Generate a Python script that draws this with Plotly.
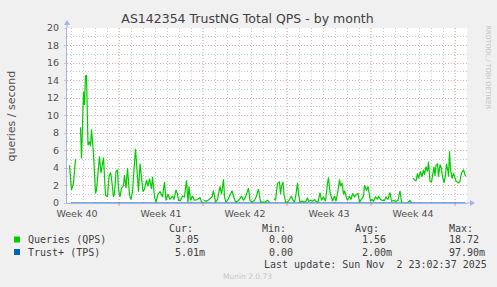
import pandas as pd
import plotly.graph_objects as go

# ---------------- data ----------------
START = pd.Timestamp("2025-09-30 16:00")
END = pd.Timestamp("2025-11-03 00:00")

# Queries (QPS): hours since START, value (None = no data)
qps_hours = [5, 9, 13, 17, 21, 27, 29, 33, 35, 37, 39, 42, 45, 47, 49, 53, 55, 57, 59, 63,
             65, 68, 71, 73, 75, 77, 81, 84, 87, 89, 93, 95, 98, 101, 103, 106, 109, 113, 115, 118,
             121, 125, 128, 131, 137, 141, 143, 146, 149, 152, 155, 159, 162, 165, 169, 171, 175, 178, 182, 186,
             191, 195, 198, 202, 206, 211, 214, 218, 221, 223, 227, 231, 235, 239, 242, 244, 247, 251, 255, 261,
             266, 270, 272, 274, 279, 284, 290, 293, 297, 301, 303, 306, 309, 313, 315, 318, 322, 326, 330, 334,
             337, 341, 345, 349, 353, 357, 359, 363, 366, 370, 375, 379, 383, 387, 391, 397, 401, 405, 408, 414,
             417, 421, 425, 427, 429, 432, 434, 437, 441, 445, 449, 451, 455, 458, 461, 463, 466, 470, 474, 478,
             481, 483, 487, 491, 495, 498, 502, 506, 509, 513, 517, 521, 523, 526, 529, 531, 535, 538, 542, 545,
             547, 550, 553, 555, 559, 561, 565, 568, 571, 575, 579, 582, 585, 589, 593, 595, 599, 602, 605, 607,
             610, 613, 617, 621, 623, 627, 631, 635, 638, 642, 646, 649, 653, 657, 662, 666, 669, 671, 674, 682,
             686, 689, 690, 692, 698, 701, 703, 707, 710, 713, 715, 718, 721, 723, 726, 729, 731, 734, 736, 738,
             741, 743, 746, 749, 751, 754, 757, 759, 762, 763, 765, 767, 770, 773, 775, 778, 781, 783, 786, 789,
             793, 795, 797]
qps_values = [4.3, 1.5, 2.25, 5.0, None, 8.65, 5.1, 12.7, 11.2, 14.5, 14.6, 6.6, 7.0, 6.5, 8.4, 5.7, 2.6, 1.1, 1.5, 3.8,
              5.3, 3.4, 4.3, 5.2, 3.0, 0.9, 0.7, 3.0, 3.5, 2.8, 0.7, 1.1, 3.6, 3.8, 1.5, 0.7, 1.7, 2.0, 3.2, 1.7,
              4.0, 0.9, 0.4, 1.3, 6.2, 3.0, 1.3, 4.5, 2.8, 1.3, 1.6, 2.6, 1.9, 2.8, 1.6, 3.0, 0.7, 0.1, 1.0, 1.3,
              0.7, 2.4, 0.3, 1.0, 0.4, 0.8, 0.4, 1.5, 1.0, 0.3, 0.3, 0.8, 0.7, 2.6, 0.1, 1.9, 0.3, 0.8, 0.3, 0.4,
              0.6, 0.0, None, 0.3, 0.2, 0.4, 0.7, 1.4, 0.1, 0.4, 1.0, 1.9, 1.0, 2.7, 0.7, 0.1, 0.4, 1.0, 1.4, 0.6,
              0.1, 0.2, 0.4, 0.8, 0.3, 0.7, 1.1, 1.7, 0.3, 0.1, 0.3, 0.8, 1.6, 0.1, 0.1, 0.1, 0.3, 0.1, None, 0.5,
              0.3, 2.25, 2.4, 1.0, 1.9, 2.4, 1.0, 0.1, 0.1, 0.4, 0.8, 0.4, 0.1, 1.0, 2.3, 1.0, 0.1, 0.2, 0.1, 0.2,
              0.6, 0.2, 0.3, 0.2, 0.4, 0.2, 0.1, 1.2, 0.3, 0.7, 0.2, 2.25, 2.9, 1.2, 0.4, 0.2, 0.8, 0.2, 1.4, 2.7,
              1.9, 2.3, 1.0, 1.4, 0.6, 0.3, 0.8, 0.4, 1.1, 0.7, 1.0, 1.1, 0.1, 0.4, 0.8, 2.05, 1.4, 1.9, 0.7, 0.2,
              0.4, 0.2, 0.7, 0.4, 0.8, 0.4, 0.3, 0.3, 0.7, 0.4, 1.2, 0.2, 0.3, 0.2, 0.3, 1.4, 0.1, 0.1, None, 0.1,
              0.3, 0.0, None, 2.85, 2.5, 3.4, 2.8, 3.6, 3.0, 3.8, 3.2, 4.15, 3.6, 4.7, 2.5, 2.4, 3.4, 4.15, 3.1, 4.3,
              4.5, 3.0, 4.4, 3.9, 3.0, 2.3, 3.2, 4.5, 3.6, 3.0, 5.9, 3.9, 2.8, 3.4, 3.0, 2.5, 2.4, 2.3, 2.5, 3.4,
              3.8, 3.2, 3.05]

# Trust+ (TPS): tiny values (milli-transactions/s), daily samples
tps_hours = [8, 32, 56, 80, 104, 128, 152, 176, 200, 224, 248, 272, 296, 320, 344, 368, 392, 416,
             440, 464, 488, 512, 536, 560, 584, 608, 632, 656, 680, 704, 728, 752, 776, 797]
tps_values = [0.002, 0.004, 0.001, 0.0, 0.003, 0.002, 0.0, 0.001, 0.002, 0.0, 0.001, 0.0, 0.002, 0.001,
              0.0, 0.001, 0.003, 0.0, 0.001, 0.002, 0.0, 0.001, 0.0, 0.002, 0.001, 0.0, 0.001, 0.002, 0.0,
              0.004, 0.003, 0.002, 0.005, 0.005]

week_starts = ["2025-09-28", "2025-10-05", "2025-10-12", "2025-10-19", "2025-10-26", "2025-11-02"]
week_labels = ["Week 40", "Week 41", "Week 42", "Week 43", "Week 44"]
y_ticks = list(range(0, 21, 2))

title = "AS142354 TrustNG Total QPS - by month"
y_title = "queries / second"
legend_names = ["Queries (QPS)", "Trust+ (TPS)"]
legend_colors = ["#00CC00", "#0066B3"]
col_heads = ["Cur:", "Min:", "Avg:", "Max:"]
stats = [["3.05", "0.00", "1.56", "18.72"],
         ["5.01m", "0.00", "2.00m", "97.90m"]]
last_update = "Last update: Sun Nov  2 23:02:37 2025"
footer = "Munin 2.0.73"
side_text = "RRDTOOL / TOBI OETIKER"

# ---------------- figure ----------------
qps_x = [START + pd.Timedelta(hours=h) for h in qps_hours]
tps_x = [START + pd.Timedelta(hours=h) for h in tps_hours]

fig = go.Figure()
fig.add_trace(go.Scatter(x=tps_x, y=tps_values, mode="lines", name=legend_names[1],
                         line=dict(color=legend_colors[1], width=1), connectgaps=False))
fig.add_trace(go.Scatter(x=qps_x, y=qps_values, mode="lines", name=legend_names[0],
                         line=dict(color=legend_colors[0], width=1.2), connectgaps=False))

W, H = 497, 287
L, R, T, B = 67, 30, 28, 84
PW, PH = W - L - R, H - T - B


def px(xp):
    return (xp - L) / PW


def py(yp):
    return (H - B - yp) / PH


AX = "#A4B2E6"
RED = "#EBA6A6"
GREY = "#C8C8C8"
MONO = "DejaVu Sans Mono"
SANS = "DejaVu Sans"

wk = [pd.Timestamp(d) for d in week_starts]
label_pos = [wk[i] + pd.Timedelta(hours=84) for i in range(len(week_labels))]

fig.update_layout(
    width=W, height=H,
    margin=dict(l=L, r=R, t=T, b=B, pad=0),
    paper_bgcolor="#F0F0F0", plot_bgcolor="#FFFFFF",
    showlegend=False,
    title=dict(text=title, x=247.5 / W, xref="container", xanchor="center",
               y=1 - 19 / H, yref="container", yanchor="middle",
               font=dict(family=SANS, size=12.5, color="#404040")),
    xaxis=dict(type="date", range=[START, END],
               tickvals=label_pos, ticktext=week_labels, ticks="",
               tickfont=dict(family=SANS, size=9.5, color="#505050"),
               showgrid=False, zeroline=False,
               showline=True, linecolor=AX, linewidth=1,
               minor=dict(dtick=86400000, tick0="2025-10-01", showgrid=True,
                          gridcolor=GREY, griddash="1px,2px", gridwidth=1, ticks=""),
               ticklabelstandoff=2),
    yaxis=dict(range=[0, 20], tickvals=y_ticks, ticks="outside", ticklen=2, tickcolor="#C8C8C8",
               tickfont=dict(family=SANS, size=9.5, color="#505050"),
               showgrid=True, gridcolor=RED, griddash="1px,2px", gridwidth=1,
               zeroline=False, showline=True, linecolor=AX, linewidth=1,
               minor=dict(dtick=1, showgrid=True, gridcolor=GREY, griddash="1px,2px", gridwidth=1, ticks=""),
               ticklabelstandoff=3),
)

shapes = []
# weekly major grid lines (red dotted) with small tick below the axis
for d in wk[1:]:
    shapes.append(dict(type="line", xref="x", yref="paper", x0=d, x1=d, y0=0, y1=1,
                       line=dict(color="#F0A0A0", width=1, dash="1px,2px"), layer="between"))
    shapes.append(dict(type="line", xref="x", yref="paper", x0=d, x1=d, y0=-0.016, y1=0,
                       line=dict(color="#F08080", width=1), layer="above"))
# axis arrows
shapes.append(dict(type="line", xref="paper", yref="paper", x0=0, x1=0, y0=1, y1=py(21),
                   line=dict(color=AX, width=1)))
shapes.append(dict(type="path", xref="paper", yref="paper",
                   path=f"M {px(64)} {py(25)} L {px(70)} {py(25)} L {px(67)} {py(20)} Z",
                   fillcolor=AX, line=dict(color=AX, width=0)))
shapes.append(dict(type="line", xref="paper", yref="paper", x0=1, x1=px(472), y0=0, y1=0,
                   line=dict(color=AX, width=1)))
shapes.append(dict(type="path", xref="paper", yref="paper",
                   path=f"M {px(470)} {py(200)} L {px(470)} {py(206)} L {px(475)} {py(203)} Z",
                   fillcolor=AX, line=dict(color=AX, width=0)))
# legend colour boxes
for i, c in enumerate(legend_colors):
    yc = [239.5, 252][i]
    shapes.append(dict(type="rect", xref="paper", yref="paper",
                       x0=px(14), x1=px(20), y0=py(yc + 3), y1=py(yc - 3),
                       fillcolor=c, line=dict(color=c, width=0)))
fig.update_layout(shapes=shapes)

ann = []
ann.append(dict(text=y_title, xref="paper", yref="paper", x=px(11), y=0.5, textangle=-90,
                showarrow=False, xanchor="center", yanchor="middle",
                font=dict(family=SANS, size=11, color="#505050")))
ann.append(dict(text=side_text, xref="paper", yref="paper", x=px(487.5), y=py(67), textangle=90,
                showarrow=False, xanchor="center", yanchor="middle",
                font=dict(family=SANS, size=6.5, color="#C0C0C0")))
head_x = [167, 260, 353, 447]
val_x = [173, 267, 360, 447]
for hx, h in zip(head_x, col_heads):
    ann.append(dict(text=h, xref="paper", yref="paper", x=px(hx), y=py(228), showarrow=False,
                    xanchor="left", yanchor="middle", font=dict(family=MONO, size=10, color="#404040")))
for r, (name, row) in enumerate(zip(legend_names, stats)):
    yc = [239.5, 252][r]
    ann.append(dict(text=name, xref="paper", yref="paper", x=px(26), y=py(yc), showarrow=False,
                    xanchor="left", yanchor="middle", font=dict(family=MONO, size=10, color="#404040")))
    for vx, v in zip(val_x, row):
        ann.append(dict(text=v, xref="paper", yref="paper", x=px(vx), y=py(yc), showarrow=False,
                        xanchor="left", yanchor="middle", font=dict(family=MONO, size=10, color="#404040")))
ann.append(dict(text=last_update.replace(" ", "&nbsp;"), xref="paper", yref="paper", x=px(261.5), y=py(264.5),
                showarrow=False, xanchor="left", yanchor="middle",
                font=dict(family=MONO, size=10, color="#404040")))
ann.append(dict(text=footer, xref="paper", yref="paper", x=px(247.5), y=py(276), showarrow=False,
                xanchor="center", yanchor="middle", font=dict(family=SANS, size=7.5, color="#C8C8C8")))
fig.update_layout(annotations=ann)

fig.write_html("out.html")
